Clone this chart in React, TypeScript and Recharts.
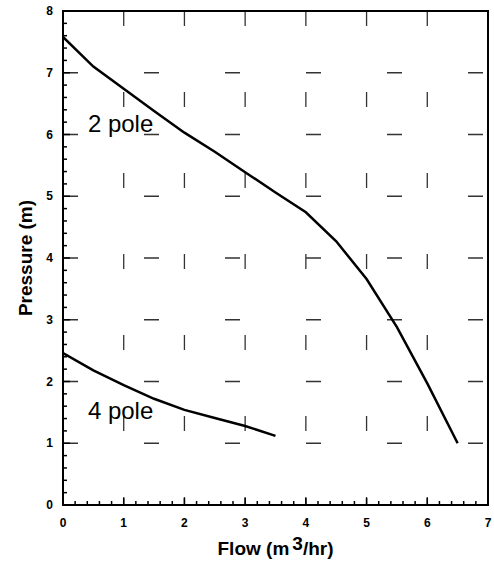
import {
  LineChart,
  Line,
  XAxis,
  YAxis,
  CartesianGrid,
  ReferenceArea,
  ReferenceDot,
} from 'recharts';

// Pump curves
const flowTwoPole = [0, 0.5, 1, 1.5, 2, 2.5, 3, 3.5, 4, 4.5, 5, 5.5, 6, 6.5];
const pressureTwoPole = [7.58, 7.1, 6.74, 6.38, 6.03, 5.72, 5.39, 5.06, 4.74, 4.27, 3.66, 2.88, 1.97, 1.0];
const flowFourPole = [0, 0.5, 1, 1.5, 2, 2.5, 3, 3.5];
const pressureFourPole = [2.46, 2.18, 1.94, 1.72, 1.54, 1.41, 1.28, 1.12];

const xMajorTicks = [0, 1, 2, 3, 4, 5, 6, 7];
const yMajorTicks = [0, 1, 2, 3, 4, 5, 6, 7, 8];
const xGridValues = [1, 2, 3, 4, 5, 6];
const yGridValues = [1, 2, 3, 4, 5, 6, 7];
const minorPerMajor = 5;

const minorTicks = (majors: number[]) => {
  const out: number[] = [];
  for (let i = 0; i < majors.length - 1; i++) {
    for (let k = 0; k < minorPerMajor; k++) {
      out.push(+(majors[i] + ((majors[i + 1] - majors[i]) * k) / minorPerMajor).toFixed(2));
    }
  }
  out.push(majors[majors.length - 1]);
  return out;
};

const twoPoleData = flowTwoPole.map((f, i) => ({ flow: f, pressure: pressureTwoPole[i] }));
const fourPoleData = flowFourPole.map((f, i) => ({ flow: f, pressure: pressureFourPole[i] }));

const FONT = '"Liberation Sans", Arial, Helvetica, sans-serif';

const isMajor = (v: number) => Math.abs(v - Math.round(v)) < 1e-6;

function YTick(props: any) {
  const { x, y, payload } = props;
  const major = isMajor(payload.value);
  return (
    <g>
      <line x1={x} y1={y} x2={x + (major ? 7 : 4)} y2={y} stroke="#000" strokeWidth={1.5} />
      {major && (
        <text x={x - 10} y={y + 4} textAnchor="end" fontFamily={FONT} fontWeight="bold" fontSize={12} fill="#000">
          {payload.value}
        </text>
      )}
    </g>
  );
}

function XTick(props: any) {
  const { x, y, payload } = props;
  const major = isMajor(payload.value);
  return (
    <g>
      <line x1={x} y1={y} x2={x} y2={y - (major ? 7 : 4)} stroke="#000" strokeWidth={1.5} />
      {major && (
        <text x={x} y={y + 22} textAnchor="middle" fontFamily={FONT} fontWeight="bold" fontSize={12} fill="#000">
          {payload.value}
        </text>
      )}
    </g>
  );
}

function PoleLabel(text: string) {
  return (props: any) => {
    const { viewBox } = props;
    return (
      <text x={viewBox.x} y={viewBox.y} fontFamily={FONT} fontSize={24} fill="#000">
        {text}
      </text>
    );
  };
}

export default function App() {
  return (
    <div style={{ position: 'absolute', left: 0, top: 0, background: '#fff' }}>
      <LineChart width={494} height={561} margin={{ top: 11, right: 6, left: 0, bottom: 0 }}>
        <CartesianGrid
          horizontalValues={yGridValues}
          verticalValues={xGridValues}
          stroke="#333"
          strokeWidth={1.3}
          strokeDasharray="15 66"
        />
        <XAxis
          type="number"
          dataKey="flow"
          domain={[0, 7]}
          ticks={minorTicks(xMajorTicks)}
          interval={0}
          height={56}
          tickSize={0}
          tickMargin={0}
          tickLine={false}
          axisLine={{ stroke: '#000', strokeWidth: 2 }}
          tick={(p: any) => <XTick {...p} />}
          allowDataOverflow
          label={(p: any) => {
            const vb = p.viewBox;
            return (
              <text
                x={vb.x + vb.width / 2}
                y={vb.y + 50}
                textAnchor="middle"
                fontFamily={FONT}
                fontWeight="bold"
                fontSize={19}
                fill="#000"
              >
                Flow (m<tspan dx={3} dy={-5}>3</tspan>
                <tspan dy={5}>/hr)</tspan>
              </text>
            );
          }}
        />
        <YAxis
          type="number"
          domain={[0, 8]}
          ticks={minorTicks(yMajorTicks)}
          interval={0}
          width={63}
          tickSize={0}
          tickMargin={0}
          tickLine={false}
          axisLine={{ stroke: '#000', strokeWidth: 2 }}
          tick={(p: any) => <YTick {...p} />}
          allowDataOverflow
          label={(p: any) => {
            const vb = p.viewBox;
            const cx = vb.x + 32;
            const cy = vb.y + vb.height / 2;
            return (
              <text
                x={cx}
                y={cy}
                transform={`rotate(-90, ${cx}, ${cy})`}
                textAnchor="middle"
                fontFamily={FONT}
                fontWeight="bold"
                fontSize={19}
                fill="#000"
              >
                Pressure (m)
              </text>
            );
          }}
        />
        <ReferenceArea x1={0} x2={7} y1={0} y2={8} fill="none" stroke="#000" strokeWidth={2} />
        <Line
          data={twoPoleData}
          dataKey="pressure"
          type="linear"
          stroke="#000"
          strokeWidth={2.5}
          dot={false}
          isAnimationActive={false}
        />
        <Line
          data={fourPoleData}
          dataKey="pressure"
          type="linear"
          stroke="#000"
          strokeWidth={2.5}
          dot={false}
          isAnimationActive={false}
        />
        <ReferenceDot x={0.41} y={6.04} r={0} stroke="none" label={PoleLabel('2 pole')} />
        <ReferenceDot x={0.41} y={1.39} r={0} stroke="none" label={PoleLabel('4 pole')} />
      </LineChart>
    </div>
  );
}
